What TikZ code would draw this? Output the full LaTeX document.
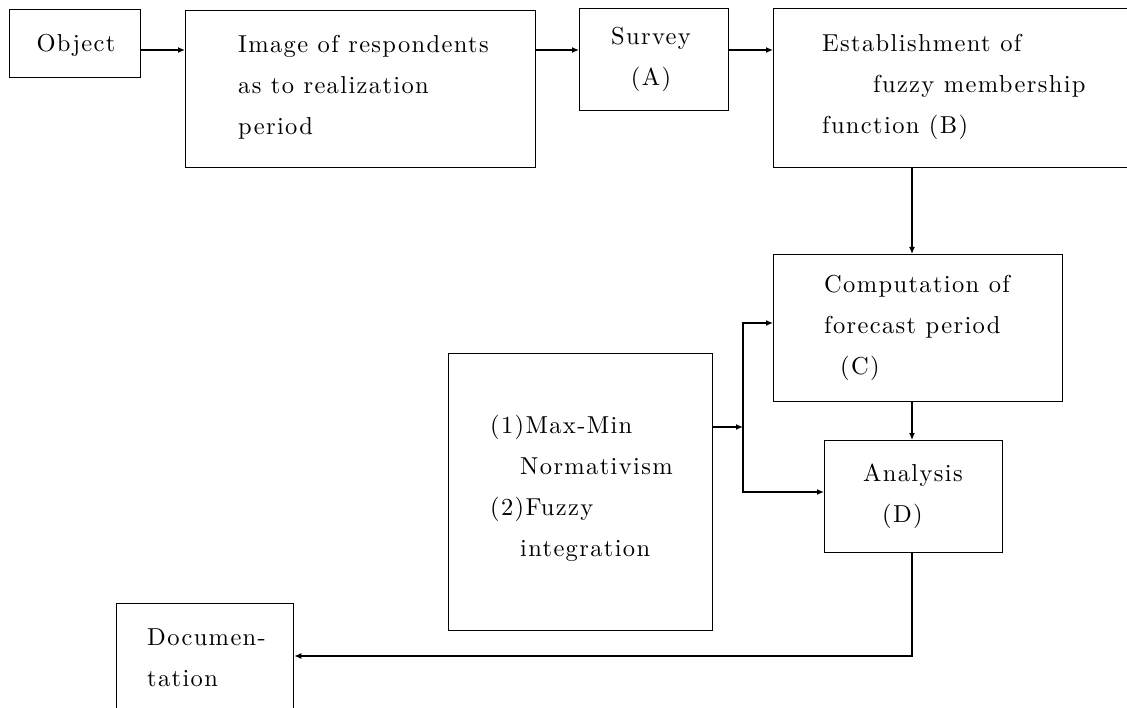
\documentclass[tikz,border=0pt]{standalone}
\usepackage{fontspec}
\newfontfamily\labelfont{lmroman10-regular.otf}[LetterSpace=5.5]
\usetikzlibrary{arrows.meta}
\begin{document}
\begin{tikzpicture}[x=1pt,y=-1pt,
  box/.style={draw,line width=1.3pt,inner sep=0pt,anchor=north west},
  txt/.style={inner sep=0pt,align=left,anchor=west,
    font=\labelfont\fontsize{24.5}{41}\selectfont},
  arr/.style={line width=1.3pt,-{Latex[length=7pt,width=6pt]}}]
\useasboundingbox (0,0) rectangle (1127,708);
\clip (0,0) rectangle (1127,708);

% process boxes
\node[box,minimum width=131pt,minimum height=68pt]  (obj)  at (9,9)     {};
\node[box,minimum width=350pt,minimum height=157pt] (img)  at (185,10)  {};
\node[box,minimum width=149pt,minimum height=102pt] (surv) at (579,8)   {};
\node[box,minimum width=367pt,minimum height=159pt] (est)  at (773,8)   {};
\node[box,minimum width=289pt,minimum height=147pt] (comp) at (773,254) {};
\node[box,minimum width=178pt,minimum height=112pt] (ana)  at (824,440) {};
\node[box,minimum width=264pt,minimum height=277pt] (mm)   at (448,353) {};
\node[box,minimum width=177pt,minimum height=130pt] (doc)  at (116,603) {};

% box labels
\node[txt,anchor=center] (objT) at (76,45) {Object};
\node[txt] (imgT) at (238,87) {Image of respondents\\as to realization\\period};
\node[txt,anchor=center,align=center] (survT) at (651,59) {Survey\\(A)};
\node[txt] (estT) at (822,87) {Establishment of\\\hspace*{51pt}fuzzy membership\\function (B)};
\node[txt] (compT) at (824,328) {Computation of\\forecast period\\\hspace*{16pt}(C)};
\node[txt] (anaT) at (863,496) {Analysis\\\hspace*{19pt}(D)};
\node[txt] (mmT) at (490,488) {(1)Max-Min\\\hspace*{30pt}Normativism\\(2)Fuzzy\\\hspace*{30pt}integration};
\node[txt] (docT) at (147,658) {Documen-\\tation};

% routing rows and columns
\coordinate (rowA) at (0,50);
\coordinate (colB) at (912,0);
\coordinate (rowC) at (0,323);
\coordinate (rowD) at (0,492);
\coordinate (rowE) at (0,656);
\coordinate (jn) at (743,427);

% connectors
\draw[arr] (obj.east |- rowA) -- (img.west |- rowA);
\draw[arr] (img.east |- rowA) -- (surv.west |- rowA);
\draw[arr] (surv.east |- rowA) -- (est.west |- rowA);
\draw[arr] (est.south -| colB) -- (comp.north -| colB);
\draw[arr] (comp.south -| colB) -- (ana.north -| colB);
\draw[arr] (mm.east |- jn) -- (jn);
\draw[arr] (jn) |- (comp.west |- rowC);
\draw[arr] (jn) |- (ana.west |- rowD);
\draw[arr] (ana.south -| colB) |- (doc.east |- rowE);
\end{tikzpicture}
\end{document}
